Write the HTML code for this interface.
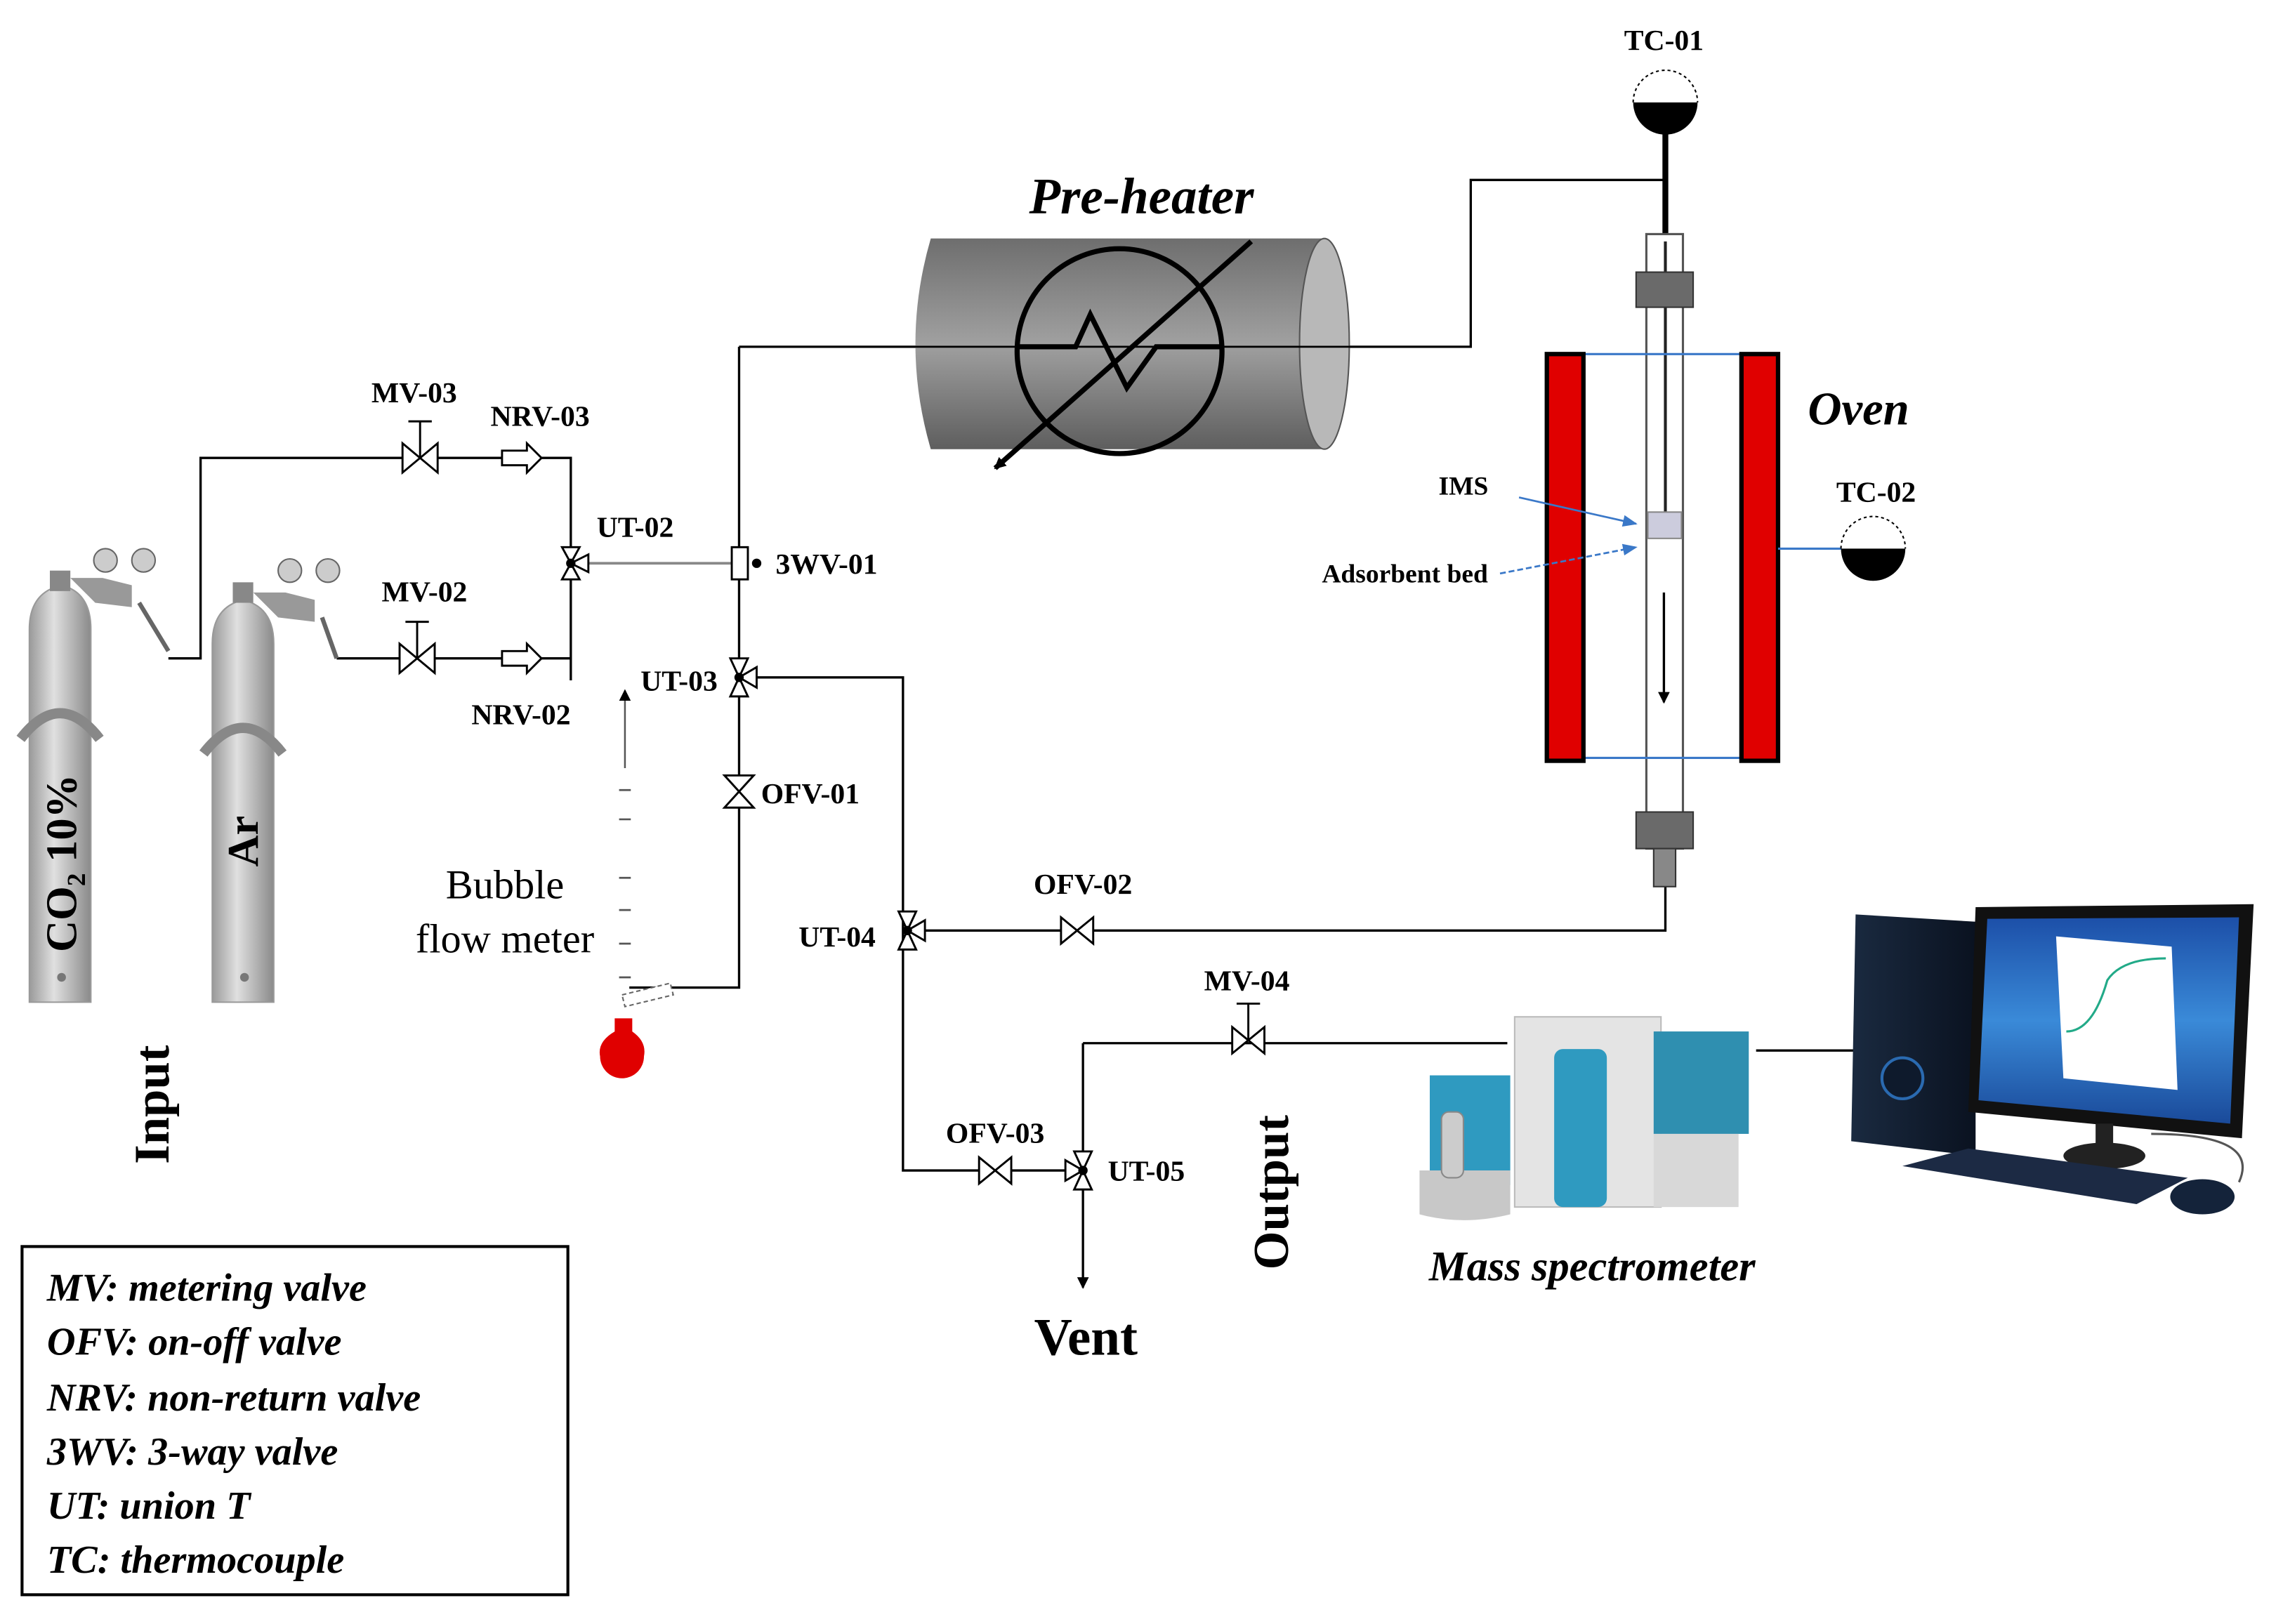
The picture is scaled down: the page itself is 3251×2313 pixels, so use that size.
<!DOCTYPE html>
<html><head><meta charset="utf-8"><style>
html,body{margin:0;padding:0;background:#fff}
svg{display:block}
text{font-family:"Liberation Serif",serif}
</style></head><body>
<svg width="3251" height="2313" viewBox="0 0 1560 1110" xmlns="http://www.w3.org/2000/svg">
<defs>
<linearGradient id="cyl" x1="0" y1="0" x2="0" y2="1">
<stop offset="0" stop-color="#6e6e6e"/><stop offset="0.5" stop-color="#a0a0a0"/><stop offset="1" stop-color="#5e5e5e"/></linearGradient>
<linearGradient id="gas" x1="0" y1="0" x2="1" y2="0">
<stop offset="0" stop-color="#9a9a9a"/><stop offset="0.4" stop-color="#e0e0e0"/><stop offset="1" stop-color="#8a8a8a"/></linearGradient>
<linearGradient id="scr" x1="0" y1="0" x2="0" y2="1">
<stop offset="0" stop-color="#1c4fa8"/><stop offset="0.5" stop-color="#3a8ad8"/><stop offset="1" stop-color="#1a4a9a"/></linearGradient>
<linearGradient id="twr" x1="0" y1="0" x2="1" y2="0">
<stop offset="0" stop-color="#1a2a40"/><stop offset="1" stop-color="#0a1220"/></linearGradient>
<marker id="ah" markerWidth="8" markerHeight="8" refX="7" refY="4" orient="auto" markerUnits="userSpaceOnUse"><path d="M0,0 L8,4 L0,8 Z" fill="#000"/></marker>
<marker id="ahb" markerWidth="10" markerHeight="8" refX="9" refY="4" orient="auto" markerUnits="userSpaceOnUse"><path d="M0,0 L10,4 L0,8 Z" fill="#3a78c8"/></marker>
</defs>

<!-- Pipes -->
<g stroke="#000" stroke-width="1.6" fill="none">
<path d="M115,450 H137 V313 H390 V465"/>
<path d="M230,450 H390"/>
<path d="M505,237 H1005 V123 H1138"/>
<path d="M505,237 V675 H430"/>
<path d="M505,463 H617 V800 H740"/>
<path d="M620,636 H1138 V600"/>
<path d="M740,713 H1030"/>
<path d="M740,713 V880" marker-end="url(#ah)"/>
<path d="M1200,718 H1270"/>
</g>
<path d="M390,385 H505" stroke="#888" stroke-width="1.8"/>

<!-- Pre-heater -->
<path d="M636,163 H905 V307 H636 Q615,235 636,163 Z" fill="url(#cyl)"/>
<ellipse cx="905" cy="235" rx="17" ry="72" fill="#b8b8b8" stroke="#555" stroke-width="1"/>
<circle cx="765" cy="240" r="70" fill="none" stroke="#000" stroke-width="3.5"/>
<path d="M695,237 H735 L745,215 L770,265 L790,237 H835" fill="none" stroke="#000" stroke-width="3.5"/>
<path d="M855,165 L680,320" stroke="#000" stroke-width="3.5" marker-end="url(#ah)"/>
<line x1="505" y1="237" x2="1005" y2="237" stroke="#000" stroke-width="1.3"/>
<text x="780" y="146" font-size="35" font-weight="bold" font-style="italic" text-anchor="middle">Pre-heater</text>

<!-- TC-01 -->
<text x="1137" y="34" font-size="20" font-weight="bold" text-anchor="middle">TC-01</text>
<path d="M1116,70 A22,22 0 0 1 1160,70" fill="none" stroke="#000" stroke-dasharray="2,2"/>
<path d="M1116,70 A22,22 0 0 0 1160,70 Z" fill="#000"/>
<line x1="1138" y1="80" x2="1138" y2="165" stroke="#000" stroke-width="4"/>

<!-- Column -->
<rect x="1125" y="160" width="25" height="420" fill="#fff" stroke="#555" stroke-width="1.5"/>
<line x1="1138" y1="165" x2="1138" y2="350" stroke="#222" stroke-width="2"/>
<rect x="1118" y="186" width="39" height="24" fill="#6a6a6a" stroke="#333"/>
<rect x="1118" y="555" width="39" height="25" fill="#6a6a6a" stroke="#333"/>
<rect x="1130" y="580" width="15" height="26" fill="#888" stroke="#333"/>
<rect x="1126" y="350" width="23" height="18" fill="#ccd" stroke="#888"/>
<path d="M1137,405 V480" stroke="#000" stroke-width="1.6" marker-end="url(#ah)"/>

<!-- Oven -->
<line x1="1082" y1="242" x2="1190" y2="242" stroke="#3a78c8" stroke-width="1.5"/>
<line x1="1082" y1="518" x2="1190" y2="518" stroke="#3a78c8" stroke-width="1.5"/>
<rect x="1057" y="242" width="25" height="278" fill="#e00000" stroke="#000" stroke-width="3"/>
<rect x="1190" y="242" width="25" height="278" fill="#e00000" stroke="#000" stroke-width="3"/>
<text x="1270" y="290" font-size="32" font-weight="bold" font-style="italic" text-anchor="middle">Oven</text>

<!-- TC-02 -->
<text x="1282" y="343" font-size="20" font-weight="bold" text-anchor="middle">TC-02</text>
<line x1="1215" y1="375" x2="1258" y2="375" stroke="#3a78c8" stroke-width="1.5"/>
<path d="M1258,375 A22,22 0 0 1 1302,375" fill="none" stroke="#000" stroke-dasharray="2,2"/>
<path d="M1258,375 A22,22 0 0 0 1302,375 Z" fill="#000"/>

<text x="1000" y="338" font-size="18" font-weight="bold" text-anchor="middle">IMS</text>
<path d="M1038,340 L1118,358" stroke="#3a78c8" stroke-width="1.3" marker-end="url(#ahb)"/>
<text x="960" y="398" font-size="18" font-weight="bold" text-anchor="middle">Adsorbent bed</text>
<path d="M1025,392 L1118,374" stroke="#3a78c8" stroke-width="1.3" stroke-dasharray="4,2" marker-end="url(#ahb)"/>

<!-- Valves -->
<g stroke="#000" stroke-width="1.4" fill="#fff">
<!-- MV-03 -->
<path d="M275,303 L299,323 V303 L275,323 Z"/><path d="M287,313 V288 M279,288 H295" fill="none"/>
<!-- MV-02 -->
<path d="M273,440 L297,460 V440 L273,460 Z"/><path d="M285,450 V425 M277,425 H293" fill="none"/>
<!-- NRV -->
<path d="M343,308 H360 V303 L370,313 L360,323 V318 H343 Z"/>
<path d="M343,445 H360 V440 L370,450 L360,460 V455 H343 Z"/>
<!-- UT-02 -->
<path d="M384,374 L396,374 L390,385 Z M384,396 L396,396 L390,385 Z M390,385 L402,379 V391 Z"/>
<circle cx="390" cy="385" r="2.5" fill="#000"/>
<!-- 3WV-01 -->
<rect x="500" y="374" width="11" height="22"/>
<circle cx="517" cy="385" r="2.5" fill="#000"/>
<!-- UT-03 -->
<path d="M499,450 L511,450 L505,463 Z M499,476 L511,476 L505,463 Z M505,463 L517,456 V470 Z"/>
<circle cx="505" cy="463" r="2.5" fill="#000"/>
<!-- OFV-01 -->
<path d="M495,530 H515 L495,552 H515 Z"/>
<!-- UT-04 -->
<path d="M614,623 L626,623 L620,636 Z M614,649 L626,649 L620,636 Z M620,636 L632,629 V643 Z"/>
<circle cx="620" cy="636" r="2.5" fill="#000"/>
<!-- OFV-02 -->
<path d="M725,627 L747,645 V627 L725,645 Z"/>
<!-- OFV-03 -->
<path d="M669,791 L691,809 V791 L669,809 Z"/>
<!-- UT-05 -->
<path d="M734,787 L746,787 L740,800 Z M734,813 L746,813 L740,800 Z M740,800 L728,793 V807 Z"/>
<circle cx="740" cy="800" r="2.5" fill="#000"/>
<!-- MV-04 -->
<path d="M842,702 L864,720 V702 L842,720 Z"/><path d="M853,711 V686 M845,686 H861" fill="none"/>
</g>

<!-- Labels -->
<g font-size="20" font-weight="bold">
<text x="283" y="275" text-anchor="middle">MV-03</text>
<text x="369" y="291" text-anchor="middle">NRV-03</text>
<text x="434" y="367" text-anchor="middle">UT-02</text>
<text x="530" y="392">3WV-01</text>
<text x="290" y="411" text-anchor="middle">MV-02</text>
<text x="356" y="495" text-anchor="middle">NRV-02</text>
<text x="464" y="472" text-anchor="middle">UT-03</text>
<text x="520" y="549">OFV-01</text>
<text x="572" y="647" text-anchor="middle">UT-04</text>
<text x="740" y="611" text-anchor="middle">OFV-02</text>
<text x="852" y="677" text-anchor="middle">MV-04</text>
<text x="680" y="781" text-anchor="middle">OFV-03</text>
<text x="757" y="807">UT-05</text>
</g>
<text x="742" y="926" font-size="36" font-weight="bold" text-anchor="middle">Vent</text>
<text transform="translate(880,815) rotate(-90)" font-size="34" font-weight="bold" text-anchor="middle">Output</text>
<text transform="translate(115,755) rotate(-90)" font-size="34" font-weight="bold" text-anchor="middle">Input</text>

<!-- Bubble flow meter -->
<text x="345" y="614" font-size="28" text-anchor="middle">Bubble</text>
<text x="345" y="651" font-size="28" text-anchor="middle">flow meter</text>
<path d="M427,525 V472" stroke="#555" stroke-width="1.2" marker-end="url(#ah)"/>
<g stroke="#555" stroke-width="1.3">
<line x1="423" y1="540" x2="431" y2="540"/><line x1="423" y1="560" x2="431" y2="560"/>
<line x1="423" y1="600" x2="431" y2="600"/><line x1="423" y1="622" x2="431" y2="622"/>
<line x1="423" y1="645" x2="431" y2="645"/><line x1="423" y1="668" x2="431" y2="668"/>
</g>
<path d="M425,680 L458,672 L460,680 L427,688 Z" fill="#fff" stroke="#666" stroke-dasharray="3,2"/>
<path d="M420,696 H432 V705 Q442,712 440,722 A15,15 0 0 1 410,722 Q408,712 420,705 Z" fill="#e00000"/>

<!-- Gas cylinders -->
<g>
<path d="M20,430 Q20,405 42,400 Q62,405 62,430 V685 H20 Z" fill="url(#gas)" stroke="#999"/>
<path d="M14,505 Q41,470 68,505" fill="none" stroke="#888" stroke-width="7"/>
<rect x="34" y="390" width="14" height="14" fill="#888"/>
<path d="M48,395 L70,395 L90,400 L90,415 L65,412 Z" fill="#999"/>
<circle cx="72" cy="383" r="8" fill="#ccc" stroke="#666"/><circle cx="98" cy="383" r="8" fill="#ccc" stroke="#666"/>
<path d="M95,412 L115,445" stroke="#666" stroke-width="3"/>
<circle cx="42" cy="668" r="3" fill="#777"/>
<text transform="translate(52,590) rotate(-90)" font-size="30" font-weight="bold" text-anchor="middle">CO₂ 10%</text>
</g>
<g>
<path d="M145,440 Q145,415 166,410 Q187,415 187,440 V685 H145 Z" fill="url(#gas)" stroke="#999"/>
<path d="M139,515 Q166,480 193,515" fill="none" stroke="#888" stroke-width="7"/>
<rect x="159" y="398" width="14" height="14" fill="#888"/>
<path d="M173,405 L195,405 L215,410 L215,425 L190,422 Z" fill="#999"/>
<circle cx="198" cy="390" r="8" fill="#ccc" stroke="#666"/><circle cx="224" cy="390" r="8" fill="#ccc" stroke="#666"/>
<path d="M220,422 L230,450" stroke="#666" stroke-width="3"/>
<circle cx="167" cy="668" r="3" fill="#777"/>
<text transform="translate(176,575) rotate(-90)" font-size="30" font-weight="bold" text-anchor="middle">Ar</text>
</g>

<!-- Mass spectrometer -->
<rect x="1035" y="695" width="100" height="130" fill="#e4e4e4" stroke="#bbb"/>
<rect x="1062" y="717" width="36" height="108" rx="6" fill="#2f9ac0"/>
<rect x="1130" y="705" width="65" height="70" fill="#2f8fb0"/>
<rect x="1130" y="775" width="58" height="50" fill="#d8d8d8"/>
<rect x="977" y="735" width="55" height="75" fill="#2f9ac0"/>
<path d="M970,800 H1032 V830 Q1000,838 970,830 Z" fill="#c8c8c8"/>
<rect x="985" y="760" width="15" height="45" rx="5" fill="#ccc" stroke="#888"/>
<text x="1088" y="875" font-size="29" font-weight="bold" font-style="italic" text-anchor="middle">Mass spectrometer</text>

<!-- Computer -->
<path d="M1268,625 L1350,630 V790 L1265,780 Z" fill="url(#twr)"/>
<circle cx="1300" cy="737" r="14" fill="#0e1a2c" stroke="#2a6ab0" stroke-width="2"/>
<path d="M1350,620 L1540,618 L1532,778 L1345,760 Z" fill="#111"/>
<path d="M1358,628 L1530,627 L1524,768 L1352,752 Z" fill="url(#scr)"/>
<path d="M1405,640 L1484,647 L1488,745 L1410,737 Z" fill="#fff"/>
<path d="M1412,705 Q1430,705 1440,670 Q1450,655 1480,655" fill="none" stroke="#2a8" stroke-width="1.5"/>
<rect x="1432" y="768" width="12" height="22" fill="#222"/>
<ellipse cx="1438" cy="790" rx="28" ry="9" fill="#222"/>
<path d="M1300,797 L1345,785 L1495,805 L1460,823 Z" fill="#1c2a44"/>
<ellipse cx="1505" cy="818" rx="22" ry="12" fill="#14233a"/>
<path d="M1470,775 Q1545,775 1530,808" fill="none" stroke="#555" stroke-width="1.5"/>

<!-- Legend -->
<rect x="15" y="852" width="373" height="238" fill="#fff" stroke="#000" stroke-width="2"/>
<g font-size="27" font-weight="bold" font-style="italic">
<text x="32" y="889">MV: metering valve</text>
<text x="32" y="926">OFV: on-off valve</text>
<text x="32" y="964">NRV: non-return valve</text>
<text x="32" y="1001">3WV: 3-way valve</text>
<text x="32" y="1038">UT: union T</text>
<text x="32" y="1075">TC: thermocouple</text>
</g>
</svg>
</body></html>
